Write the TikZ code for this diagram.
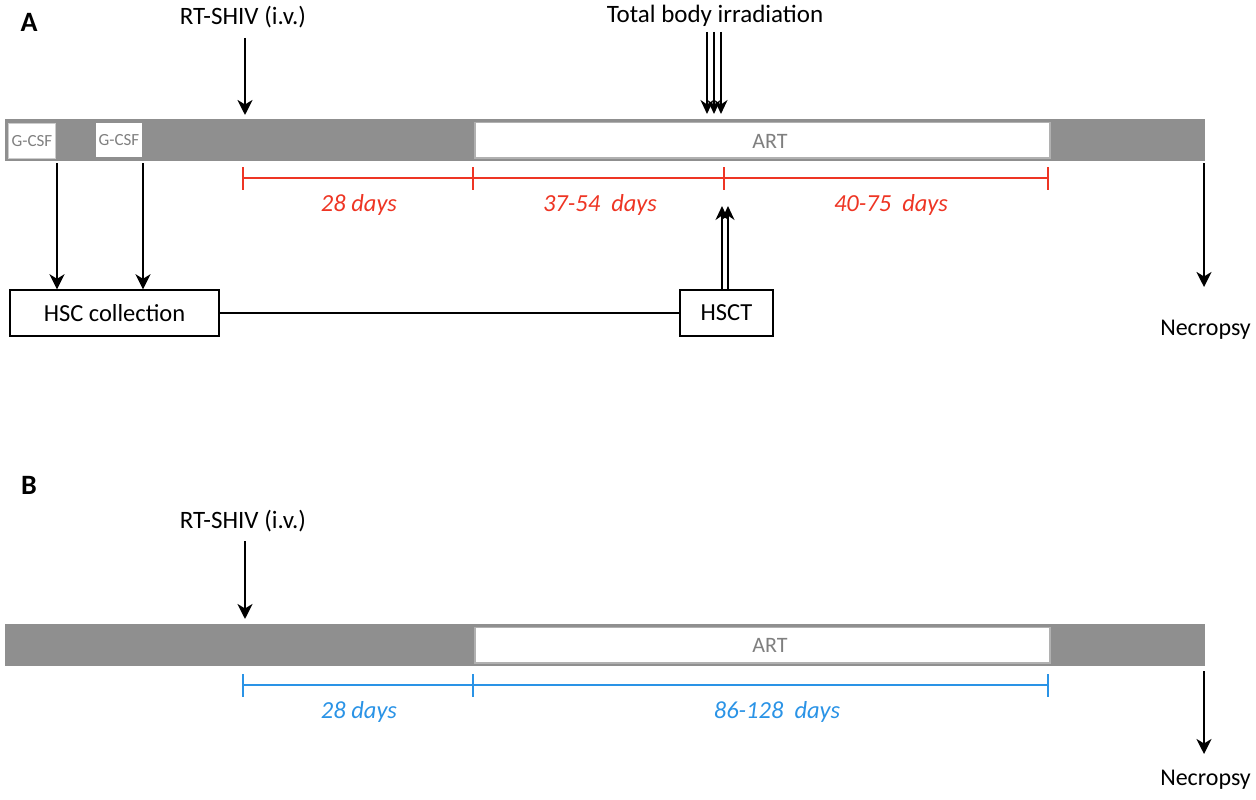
\documentclass[tikz,border=0pt]{standalone}
\usepackage{fontspec}
\setmainfont{Carlito}
\usetikzlibrary{arrows.meta}
\definecolor{bargray}{HTML}{8F8F8F}
\definecolor{artgray}{HTML}{7F7F7F}
\definecolor{tlred}{HTML}{EE3524}
\definecolor{tlblue}{HTML}{2A93E6}
\tikzset{
  arr/.style={line width=2.8pt,-{Stealth[length=15pt,width=15pt,inset=4.5pt]}},
  thinarr/.style={line width=2.2pt,-{Stealth[length=14pt,width=13pt,inset=4.5pt]}},
  bar/.style={fill=bargray,draw=none},
  artbox/.style={fill=white,draw=bargray!70,line width=1.2pt},
  gcsf/.style={fill=white,draw=gray!40,line width=1.5pt,inner sep=0pt,minimum width=47pt,minimum height=35pt,font=\fontsize{17}{17}\selectfont,text=gray},
  blk/.style={draw=black,line width=1.4pt,fill=white,inner sep=0pt,font=\fontsize{24.5}{24.5}\selectfont},
  lbl/.style={font=\fontsize{25}{25}\selectfont},
  nec/.style={font=\fontsize{24}{24}\selectfont,anchor=east,inner sep=0pt},
  days/.style={font=\fontsize{24.5}{24.5}\selectfont\itshape},
  tl/.style={line width=2.4pt},
  panel/.style={font=\fontsize{28}{28}\selectfont\bfseries}
}
\begin{document}
\begin{tikzpicture}[x=1pt,y=-1pt]
\useasboundingbox (0,0) rectangle (1256,800);
% ---------- Panel A ----------
\node[panel] (pA) at (29,22) {A};
\fill[bar] (5,119) rectangle (1205,161);
\draw[artbox] (475,122.5) rectangle (1050,158);
\node[text=artgray,font=\fontsize{22}{22}\selectfont] (artA) at (770,141) {ART};
\node[gcsf] (g1) at (32,141) {G-CSF};
\node[gcsf,draw=none,minimum width=46pt,minimum height=34pt] (g2) at (119,140) {G-CSF};
\node[lbl] (rtA) at (243,17) {RT-SHIV (i.v.)};
\draw[arr] (245,38) -- (245,115);
\node[lbl] (tbi) at (715,16) {Total body irradiation};
\foreach \x in {707,714,721}{
  \draw[thinarr] (\x,32) -- (\x,114);
}
% red timeline
\coordinate (r0) at (243,178);
\coordinate (r1) at (473,178);
\coordinate (r2) at (724,178);
\coordinate (r3) at (1048,178);
\draw[tl,tlred] (r0) -- (r3);
\foreach \p in {r0,r1,r2,r3}{\draw[tl,tlred] (\p) ++(0,-11) -- ++(0,23);}
\node[days,text=tlred] (dA1) at (359,205) {28 days};
\node[days,text=tlred] (dA2) at (600,205) {37-54\ \ days};
\node[days,text=tlred] (dA3) at (891,205) {40-75\ \ days};
% HSC
\node[blk,minimum width=209pt,minimum height=46pt] (hsc) at (114.5,313) {HSC collection};
\node[blk,minimum width=93pt,minimum height=46pt] (hsct) at (726.5,313) {HSCT};
\draw[line width=2.6pt] (hsc.east) -- (hsct.west);
\draw[arr] (57,163) -- (57,163 |- hsc.north);
\draw[arr] (143,163) -- (143,163 |- hsc.north);
\draw[thinarr] (722,0 |- hsct.north) -- (722,206);
\draw[thinarr] (728,0 |- hsct.north) -- (728,206);
% necropsy A
\node[nec] (necA) at (1251,330) {Necropsy};
\draw[arr] (1204,163) -- (1204,287);
% ---------- Panel B ----------
\node[panel] (pB) at (29,485) {B};
\fill[bar] (5,624) rectangle (1205,666);
\draw[artbox] (475,627.5) rectangle (1050,663);
\node[text=artgray,font=\fontsize{22}{22}\selectfont] (artB) at (770,645) {ART};
\node[lbl] (rtB) at (243,521) {RT-SHIV (i.v.)};
\draw[arr] (245,541) -- (245,619);
\coordinate (b0) at (243,685);
\coordinate (b1) at (473,685);
\coordinate (b3) at (1048,685);
\draw[tl,tlblue] (b0) -- (b3);
\foreach \p in {b0,b1,b3}{\draw[tl,tlblue] (\p) ++(0,-11) -- ++(0,23);}
\node[days,text=tlblue] (dB1) at (359,712) {28 days};
\node[days,text=tlblue] (dB2) at (777,712) {86-128\ \ days};
\node[nec] (necB) at (1251,780) {Necropsy};
\draw[arr] (1204,671) -- (1204,754);
\end{tikzpicture}
\end{document}
